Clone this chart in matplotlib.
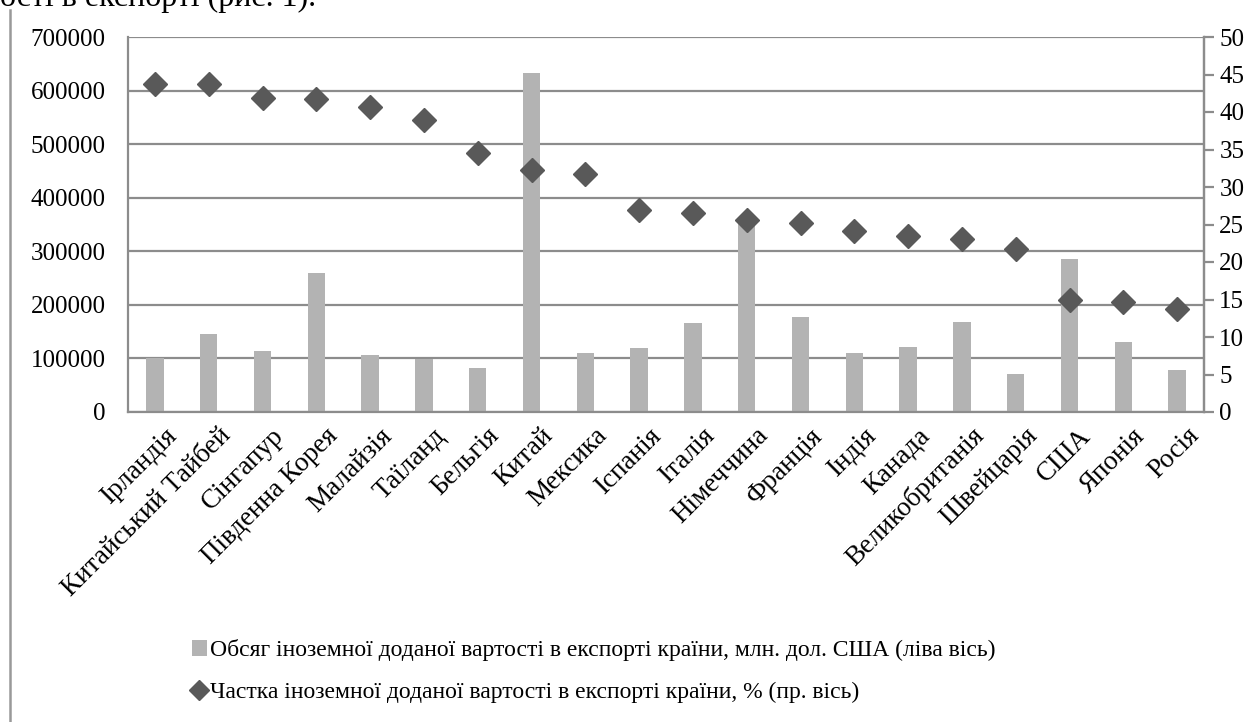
import numpy as np
import matplotlib
matplotlib.use("Agg")
import matplotlib.pyplot as plt
import matplotlib.transforms as mtransforms
from matplotlib.patches import Patch
from matplotlib.lines import Line2D

plt.rcParams["font.family"] = ["Liberation Serif", "DejaVu Serif"]

countries = ["Ірландія", "Китайський Тайбей", "Сінгапур", "Південна Корея", "Малайзія",
             "Таїланд", "Бельгія", "Китай", "Мексика", "Іспанія", "Італія", "Німеччина",
             "Франція", "Індія", "Канада", "Великобританія", "Швейцарія", "США", "Японія", "Росія"]
volume = [100000, 145500, 114000, 259000, 106000, 99500, 82600, 632000, 109500, 119000,
          165500, 362000, 178000, 109500, 122000, 168500, 70300, 285500, 130000, 78400]
share = [43.7, 43.7, 41.9, 41.8, 40.7, 39.0, 34.6, 32.2, 31.8, 26.9,
         26.5, 25.6, 25.2, 24.2, 23.5, 23.1, 21.8, 15.0, 14.7, 13.8]
left_ticks = list(range(0, 700001, 100000))
right_ticks = list(range(0, 51, 5))

label_vol = "Обсяг іноземної доданої вартості в експорті країни, млн. дол. США (ліва вісь)"
label_share = "Частка іноземної доданої вартості в експорті країни, % (пр. вісь)"

BAR = "#b3b3b3"
DIA = "#595959"
GRID = "#8c8c8c"
FS = 18

W, H = 1260, 722
fig = plt.figure(figsize=(W / 100, H / 100), dpi=100, facecolor="white")
ax = fig.add_axes([128 / W, 1 - 412 / H, (1204 - 128) / W, (412 - 37) / H])
x = np.arange(len(countries))

ax.bar(x, volume, width=0.32, color=BAR, zorder=2)
ax.set_xlim(-0.5, len(countries) - 0.5)
ax.set_ylim(0, 700000)
ax.set_yticks(left_ticks)
ax.set_yticklabels([str(v) for v in left_ticks], fontsize=FS)
ax.set_axisbelow(True)
ax.yaxis.grid(True, color=GRID, linewidth=1.6)
ax.tick_params(axis="y", length=0, pad=16)
ax.tick_params(axis="x", length=0, pad=8)
ax.set_xticks(x)
ax.set_xticklabels(countries, fontsize=19.5, rotation=45, ha="right", va="center",
                   rotation_mode="anchor")
# Excel puts the end of each slanted label a little right of and below its tick
shift = mtransforms.ScaledTranslation(18 / 100, -9 / 100, fig.dpi_scale_trans)
for lab in ax.get_xticklabels():
    lab.set_transform(lab.get_transform() + shift)
for s in ["left", "bottom", "right"]:
    ax.spines[s].set_color(GRID)
    ax.spines[s].set_linewidth(1.6)
ax.spines["top"].set_visible(False)

ax2 = ax.twinx()
ax2.plot(x, share, linestyle="none", marker="D", markersize=12.5, color=DIA, zorder=3)
ax2.set_ylim(0, 50)
ax2.set_yticks(right_ticks)
ax2.set_yticklabels([str(v) for v in right_ticks], fontsize=FS)
ax2.tick_params(axis="y", length=7, width=1.6, color=GRID, pad=4)
for s in ["left", "bottom", "top"]:
    ax2.spines[s].set_visible(False)
ax2.spines["right"].set_color(GRID)
ax2.spines["right"].set_linewidth(1.6)

handles = [Patch(facecolor=BAR, edgecolor="none"),
           Line2D([], [], linestyle="none", marker="D", markersize=10, color=DIA)]
fig.legend(handles, [label_vol, label_share], loc="center left",
           bbox_to_anchor=(180 / W, 1 - 671 / H), frameon=False, fontsize=17,
           handlelength=0.65, handleheight=0.65, handletextpad=0.12, labelspacing=0.85,
           borderpad=0)

# cropped line of document text above the chart and the page margin line
fig.text(0, 1 - 6 / H, "ості в експорті (рис. 1).", fontsize=23, va="baseline", ha="left")
fig.add_artist(Line2D([10 / W, 10 / W], [0, 1 - 10 / H], color="#999999", linewidth=1.8))

fig.savefig("out.png", dpi=100, facecolor="white")
